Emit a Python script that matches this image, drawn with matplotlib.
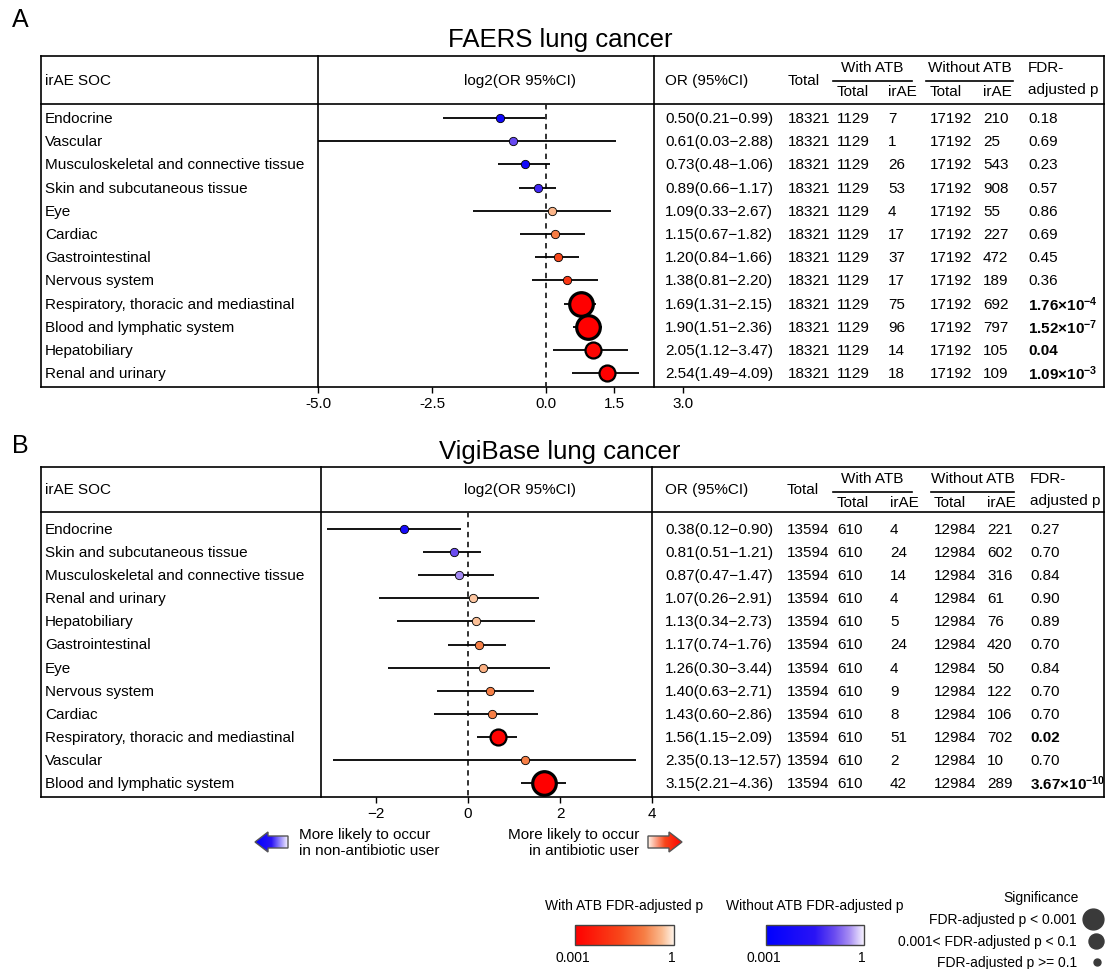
import numpy as np
import matplotlib.pyplot as plt
from matplotlib.colors import LinearSegmentedColormap
from matplotlib.patches import Polygon, Rectangle

plt.rcParams['font.family'] = ['Liberation Sans', 'DejaVu Sans']
plt.rcParams['mathtext.fontset'] = 'custom'
plt.rcParams['mathtext.rm'] = 'Liberation Sans'
plt.rcParams['mathtext.bf'] = 'Liberation Sans:bold'
plt.rcParams['mathtext.it'] = 'Liberation Sans:italic'

# ---------------- data ----------------
soc_a = ["Endocrine", "Vascular", "Musculoskeletal and connective tissue",
         "Skin and subcutaneous tissue", "Eye", "Cardiac", "Gastrointestinal",
         "Nervous system", "Respiratory, thoracic and mediastinal",
         "Blood and lymphatic system", "Hepatobiliary", "Renal and urinary"]
or_a = [0.50, 0.61, 0.73, 0.89, 1.09, 1.15, 1.20, 1.38, 1.69, 1.90, 2.05, 2.54]
lo_a = [0.21, 0.03, 0.48, 0.66, 0.33, 0.67, 0.84, 0.81, 1.31, 1.51, 1.12, 1.49]
hi_a = [0.99, 2.88, 1.06, 1.17, 2.67, 1.82, 1.66, 2.20, 2.15, 2.36, 3.47, 4.09]
total_a = 18321
with_tot_a = 1129
with_ir_a = [7, 1, 26, 53, 4, 17, 37, 17, 75, 96, 14, 18]
wo_tot_a = 17192
wo_ir_a = [210, 25, 543, 908, 55, 227, 472, 189, 692, 797, 105, 109]
p_a = [0.18, 0.69, 0.23, 0.57, 0.86, 0.69, 0.45, 0.36, 1.76e-4, 1.52e-7, 0.04, 1.09e-3]
plab_a = ["0.18", "0.69", "0.23", "0.57", "0.86", "0.69", "0.45", "0.36",
          r"$\mathbf{1.76{\times}10^{-4}}$", r"$\mathbf{1.52{\times}10^{-7}}$", "0.04",
          r"$\mathbf{1.09{\times}10^{-3}}$"]

soc_b = ["Endocrine", "Skin and subcutaneous tissue", "Musculoskeletal and connective tissue",
         "Renal and urinary", "Hepatobiliary", "Gastrointestinal", "Eye", "Nervous system",
         "Cardiac", "Respiratory, thoracic and mediastinal", "Vascular",
         "Blood and lymphatic system"]
or_b = [0.38, 0.81, 0.87, 1.07, 1.13, 1.17, 1.26, 1.40, 1.43, 1.56, 2.35, 3.15]
lo_b = [0.12, 0.51, 0.47, 0.26, 0.34, 0.74, 0.30, 0.63, 0.60, 1.15, 0.13, 2.21]
hi_b = [0.90, 1.21, 1.47, 2.91, 2.73, 1.76, 3.44, 2.71, 2.86, 2.09, 12.57, 4.36]
total_b = 13594
with_tot_b = 610
with_ir_b = [4, 24, 14, 4, 5, 24, 4, 9, 8, 51, 2, 42]
wo_tot_b = 12984
wo_ir_b = [221, 602, 316, 61, 76, 420, 50, 122, 106, 702, 10, 289]
p_b = [0.27, 0.70, 0.84, 0.90, 0.89, 0.70, 0.84, 0.70, 0.70, 0.02, 0.70, 3.67e-10]
plab_b = ["0.27", "0.70", "0.84", "0.90", "0.89", "0.70", "0.84", "0.70", "0.70",
          "0.02", "0.70", r"$\mathbf{3.67{\times}10^{-10}}$"]

ticks_a = [-5.0, -2.5, 0.0, 1.5, 3.0]
ticks_b = [-2, 0, 2, 4]

# ---------------- colours ----------------
red_cmap = LinearSegmentedColormap.from_list(
    'withatb', [(0, '#ff0000'), (0.45, '#f8461a'), (0.7, '#f67e45'),
                (0.88, '#fbbb90'), (1, '#fff3e8')])
blue_cmap = LinearSegmentedColormap.from_list(
    'withoutatb', [(0, '#0000ff'), (0.5, '#2a14f5'), (0.7, '#6a4cf0'),
                   (0.85, '#a68cf3'), (1, '#f6f2ff')])

W, H = 1105, 970
fig = plt.figure(figsize=(W / 100, H / 100), dpi=100)
bg = fig.add_axes([0, 0, 1, 1])
bg.set_xlim(0, W)
bg.set_ylim(H, 0)
bg.axis('off')

FS = 11
LW = 1.2


def px_axes(x0, y0, x1, y1):
    ax = fig.add_axes([x0 / W, 1 - y1 / H, (x1 - x0) / W, (y1 - y0) / H])
    ax.patch.set_alpha(0)
    return ax


def panel(letter, title, g, soc, orv, lo, hi, tot, wtot, wir, wotot, woir, p, plab, ticks, ticklabels):
    top, head, row0, dy, bot = g['top'], g['head'], g['row0'], g['dy'], g['bot']
    d1, d2 = g['div1'], g['div2']
    cols = g['cols']
    L, R = 41, 1104

    bg.text(12, g['letter_y'], letter, fontsize=18, va='center', ha='left')
    bg.text(560, g['title_y'], title, fontsize=18.5, va='center', ha='center')

    # box and rules
    bg.plot([L, R], [top, top], color='black', lw=LW)
    bg.plot([L, R], [head, head], color='black', lw=LW)
    bg.plot([L, R], [bot, bot], color='black', lw=LW)
    for x in (L, d1, d2, R):
        bg.plot([x, x], [top, bot], color='black', lw=LW)

    # header
    hm = (top + head) / 2
    bg.text(45, hm, "irAE SOC", fontsize=FS, va='center')
    bg.text(520, hm, "log2(OR 95%CI)", fontsize=FS, va='center', ha='center')
    bg.text(cols[0], hm, "OR (95%CI)", fontsize=FS, va='center')
    bg.text(cols[1], hm, "Total", fontsize=FS, va='center')
    up, ul, lo_y = top + 11, top + 25, top + 35
    bg.text((g['w_ul'][0] + g['w_ul'][1]) / 2, up, "With ATB", fontsize=FS, va='center', ha='center')
    bg.plot(g['w_ul'], [ul, ul], color='black', lw=LW)
    bg.text((g['wo_ul'][0] + g['wo_ul'][1]) / 2, up, "Without ATB", fontsize=FS, va='center', ha='center')
    bg.plot(g['wo_ul'], [ul, ul], color='black', lw=LW)
    bg.text(cols[2], lo_y, "Total", fontsize=FS, va='center')
    bg.text(cols[3], lo_y, "irAE", fontsize=FS, va='center')
    bg.text(cols[4], lo_y, "Total", fontsize=FS, va='center')
    bg.text(cols[5], lo_y, "irAE", fontsize=FS, va='center')
    bg.text(cols[6], up, "FDR-", fontsize=FS, va='center')
    bg.text(cols[6], top + 33, "adjusted p", fontsize=FS, va='center')

    # rows
    for i in range(len(soc)):
        y = row0 + dy * i
        bg.text(45, y, soc[i], fontsize=FS, va='center')
        bg.text(cols[0], y, "%.2f(%.2f\u2212%.2f)" % (orv[i], lo[i], hi[i]), fontsize=FS, va='center')
        bg.text(cols[1], y, str(tot), fontsize=FS, va='center')
        bg.text(cols[2], y, str(wtot), fontsize=FS, va='center')
        bg.text(cols[3], y, str(wir[i]), fontsize=FS, va='center')
        bg.text(cols[4], y, str(wotot), fontsize=FS, va='center')
        bg.text(cols[5], y, str(woir[i]), fontsize=FS, va='center')
        bg.text(cols[6], y, plab[i], fontsize=FS, va='center',
                fontweight='bold' if p[i] < 0.05 else 'normal')

    # forest
    x0, x1 = g['xlim']
    ax = px_axes(g['ax_left'], head, g['ax_right'], bot)
    ax.set_xlim(x0, x1)
    n = len(soc)
    ax.set_ylim((bot - row0) / dy, (head - row0) / dy)
    for s in ax.spines.values():
        s.set_visible(False)
    ax.set_yticks([])
    ax.set_xticks(ticks)
    ax.set_xticklabels(ticklabels)
    ax.tick_params(axis='x', length=4, width=1, pad=2.5, labelsize=11)
    ax.plot([0, 0], [(head - row0) / dy, (bot - row0) / dy], color='#222222', lw=1.3,
            ls=(0, (3, 2.5)), zorder=1)
    for i in range(n):
        ax.plot([max(np.log2(lo[i]), x0), np.log2(hi[i])], [i, i], color='black', lw=1.3,
                solid_capstyle='butt', zorder=2, clip_on=False)
        if p[i] < 0.001:
            ms, mew = 17, 2.3
        elif p[i] < 0.1:
            ms, mew = 11.5, 1.6
        else:
            ms, mew = 6, 0.6
        cmap = red_cmap if orv[i] > 1 else blue_cmap
        ax.plot(np.log2(orv[i]), i, 'o', ms=ms, mew=mew, mfc=cmap(p[i]),
                mec='black', zorder=3, clip_on=False)
    return ax


geo_a = dict(top=57, head=105, row0=119, dy=23.2, bot=388, div1=318, div2=654,
             cols=[665, 788, 837, 888, 930, 983, 1028], w_ul=[833, 912], wo_ul=[926, 1013],
             title_y=40, letter_y=20, xlim=(-5.0, 3.0), ax_left=318, ax_right=318 + 8 * 45.6)
geo_b = dict(top=468, head=513, row0=530, dy=23.1, bot=798, div1=321, div2=652,
             cols=[665, 787, 837, 890, 934, 987, 1030], w_ul=[833, 912], wo_ul=[931, 1014],
             title_y=452, letter_y=446, xlim=(-3.2, 4.0), ax_left=321, ax_right=652)

panel("A", "FAERS lung cancer", geo_a, soc_a, or_a, lo_a, hi_a, total_a, with_tot_a,
      with_ir_a, wo_tot_a, wo_ir_a, p_a, plab_a, ticks_a, ["%.1f" % t for t in ticks_a])
panel("B", "VigiBase lung cancer", geo_b, soc_b, or_b, lo_b, hi_b, total_b, with_tot_b,
      with_ir_b, wo_tot_b, wo_ir_b, p_b, plab_b, ticks_b,
      [str(t).replace("-", "\u2212") for t in ticks_b])


# ---------------- arrows ----------------
def grad_arrow(x_tail, x_tip, y, cmap):
    d = 1 if x_tip > x_tail else -1
    head_len, hh, sh = 13, 10, 6
    xb = x_tip - d * head_len
    pts = [(x_tail, y - sh), (xb, y - sh), (xb, y - hh), (x_tip, y),
           (xb, y + hh), (xb, y + sh), (x_tail, y + sh)]
    poly = Polygon(pts, closed=True, fc='none', ec='#555555', lw=1, zorder=5)
    bg.add_patch(poly)
    grad = np.linspace(0, 1, 200)[None, :]
    xl, xr = min(x_tail, x_tip), max(x_tail, x_tip)
    im = bg.imshow(grad if d > 0 else grad[:, ::-1], cmap=cmap, extent=[xl, xr, y + hh, y - hh],
                   aspect='auto', zorder=4)
    im.set_clip_path(poly)


arrow_cmap_r = LinearSegmentedColormap.from_list('ar', ['#fff3e8', '#f8461a', '#ff0000'])
arrow_cmap_b = LinearSegmentedColormap.from_list('ab', ['#f6f2ff', '#2a14f5', '#0000ff'])
grad_arrow(288, 255, 843, arrow_cmap_b)
grad_arrow(648, 682, 843, arrow_cmap_r)
bg.text(299, 843, "More likely to occur\nin non-antibiotic user", fontsize=FS, va='center',
        ha='left', linespacing=1.2)
bg.text(639, 843, "More likely to occur\nin antibiotic user", fontsize=FS, va='center',
        ha='right', multialignment='right', linespacing=1.2)

# ---------------- colour legends ----------------
LFS = 10
for cmap, xa, xb, lab in [(red_cmap, 575, 674, "With ATB FDR-adjusted p"),
                          (blue_cmap, 766, 864, "Without ATB FDR-adjusted p")]:
    bg.imshow(np.linspace(0, 1, 256)[None, :], cmap=cmap, extent=[xa, xb, 946, 926],
              aspect='auto', zorder=4)
    bg.add_patch(Rectangle((xa, 926), xb - xa, 20, fc='none', ec='#444444', lw=1, zorder=5))
    bg.text((xa + xb) / 2, 906, lab, fontsize=LFS, ha='center', va='center')
    bg.text(xa - 2, 958, "0.001", fontsize=LFS, ha='center', va='center')
    bg.text(xb - 2, 958, "1", fontsize=LFS, ha='center', va='center')

bg.set_xlim(0, W)
bg.set_ylim(H, 0)

# ---------------- significance legend ----------------
bg.text(1041, 898, "Significance", fontsize=LFS, ha='center', va='center')
sig_labels = ["FDR-adjusted p < 0.001", "0.001< FDR-adjusted p < 0.1", "FDR-adjusted p >= 0.1"]
sig_ms = [15, 10.8, 5]
sig_x = [1093, 1096, 1097]
for lab, ms, sx, yy in zip(sig_labels, sig_ms, sig_x, [920, 942, 963]):
    bg.text(1077, yy, lab, fontsize=LFS, ha='right', va='center')
    bg.plot(sx, yy, 'o', ms=ms, color='#3a3a3a', clip_on=False)

fig.savefig("out.png", dpi=100)
